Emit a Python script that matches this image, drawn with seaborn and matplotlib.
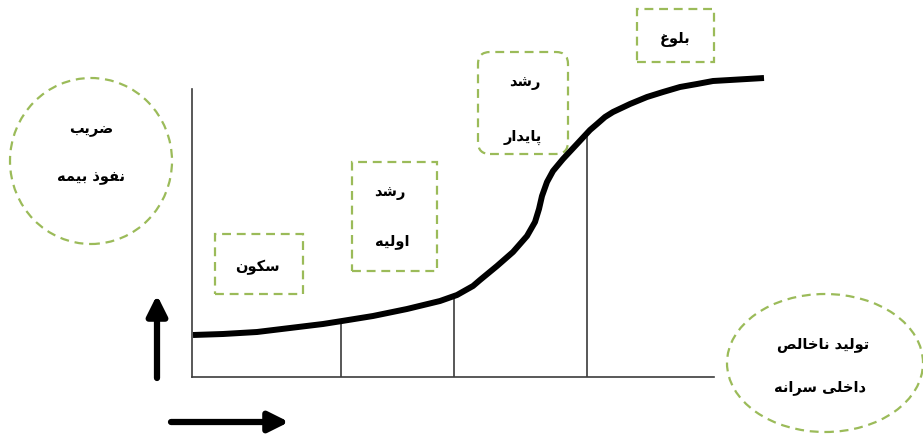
import matplotlib
matplotlib.use("Agg")
import matplotlib.pyplot as plt
import numpy as np
import pandas as pd
import seaborn as sns
from matplotlib.patches import Ellipse, FancyBboxPatch, Rectangle

# S-curve (x: time from the y-axis, y: height above the x-axis, in px)
curve_x = [1, 31, 65, 98, 131, 150, 181, 215, 248, 265, 281, 288, 305, 321, 335, 343, 347,
           350, 355, 361, 371, 385, 398, 405, 413, 421, 438, 455, 471, 488, 505, 521, 538, 555, 572]
curve_y = [42, 43, 45, 49, 53, 56, 61, 68, 76, 82, 91, 97, 111, 125, 141, 155, 168,
           181, 195, 206, 218, 233, 247, 253, 260, 265, 273, 280, 285, 290, 293, 296, 297, 298, 299]
stage_bounds = [149, 262, 395]
axis_x_end = 522
axis_y_end = 288

y_label = ["ضریب", "نفوذ بیمه"]
x_label = ["تولید ناخالص", "داخلی سرانه"]
stage_labels = [["سکون"], ["رشد", "اولیه"], ["رشد", "پایدار"], ["بلوغ"]]

GREEN = "#9bbb59"
DASH = (0, (4, 2.6))

# minimal Persian shaping: matplotlib draws glyphs one by one, left to right
FORMS = {
    "ا": ("\uFE8D", "\uFE8E"),
    "ب": ("\uFE8F", "\uFE90", "\uFE91", "\uFE92"),
    "پ": ("\uFB56", "\uFB57", "\uFB58", "\uFB59"),
    "ت": ("\uFE95", "\uFE96", "\uFE97", "\uFE98"),
    "خ": ("\uFEA5", "\uFEA6", "\uFEA7", "\uFEA8"),
    "د": ("\uFEA9", "\uFEAA"),
    "ذ": ("\uFEAB", "\uFEAC"),
    "ر": ("\uFEAD", "\uFEAE"),
    "س": ("\uFEB1", "\uFEB2", "\uFEB3", "\uFEB4"),
    "ش": ("\uFEB5", "\uFEB6", "\uFEB7", "\uFEB8"),
    "ص": ("\uFEB9", "\uFEBA", "\uFEBB", "\uFEBC"),
    "ض": ("\uFEBD", "\uFEBE", "\uFEBF", "\uFEC0"),
    "غ": ("\uFECD", "\uFECE", "\uFECF", "\uFED0"),
    "ف": ("\uFED1", "\uFED2", "\uFED3", "\uFED4"),
    "ک": ("\uFB8E", "\uFB8F", "\uFB90", "\uFB91"),
    "ل": ("\uFEDD", "\uFEDE", "\uFEDF", "\uFEE0"),
    "م": ("\uFEE1", "\uFEE2", "\uFEE3", "\uFEE4"),
    "ن": ("\uFEE5", "\uFEE6", "\uFEE7", "\uFEE8"),
    "ه": ("\uFEE9", "\uFEEA", "\uFEEB", "\uFEEC"),
    "و": ("\uFEED", "\uFEEE"),
    "ی": ("\uFBFC", "\uFBFD", "\uFBFE", "\uFBFF"),
}


def shape(text):
    out = []
    for i, ch in enumerate(text):
        f = FORMS.get(ch)
        if f is None:
            out.append(ch)
            continue
        prev = text[i - 1] if i > 0 else ""
        nxt = text[i + 1] if i + 1 < len(text) else ""
        join_prev = prev in FORMS and len(FORMS[prev]) == 4
        join_next = len(f) == 4 and nxt in FORMS
        if join_prev and join_next:
            out.append(f[3])
        elif join_prev:
            out.append(f[1])
        elif join_next:
            out.append(f[2])
        else:
            out.append(f[0])
    return "".join(reversed(out))


sns.set_style("white")
plt.rcParams["font.family"] = ["DejaVu Sans"]

W, H = 923, 435
fig = plt.figure(figsize=(W / 100, H / 100), dpi=100)
x_end = curve_x[-1]
y_end = curve_y[-1]
ax = fig.add_axes([192 / W, 57 / H, x_end / W, y_end / H])

df = pd.DataFrame({"x": curve_x, "y": curve_y})
sns.lineplot(data=df, x="x", y="y", ax=ax, color="black", lw=4.3,
             sort=False, solid_capstyle="butt", solid_joinstyle="round", clip_on=False)

ax.set_xlim(0, x_end)
ax.set_ylim(0, y_end)
ax.set_xticks([])
ax.set_yticks([])
ax.set_xlabel("")
ax.set_ylabel("")
for side in ["top", "right"]:
    ax.spines[side].set_visible(False)
for side in ["left", "bottom"]:
    ax.spines[side].set_color("#3c3c3c")
    ax.spines[side].set_linewidth(1.2)
ax.spines["bottom"].set_bounds(0, axis_x_end)
ax.spines["left"].set_bounds(0, axis_y_end)

# stage dividers up to the curve
for b in stage_bounds:
    top = np.interp(b, curve_x, curve_y)
    ax.plot([b, b], [0, top], color="#2a2a2a", lw=1.1, zorder=1)

# stage boxes
boxes = [(23, 83, 88, 60), (160, 106, 85, 109), (445, 315, 77, 53)]
for x0, y0, w, h in boxes:
    ax.add_patch(Rectangle((x0, y0), w, h, fill=False, ec=GREEN, lw=1.6,
                           ls=DASH, clip_on=False))
ax.add_patch(FancyBboxPatch((298, 235), 66, 78, boxstyle="round,pad=12",
                            fill=False, ec=GREEN, lw=1.6, ls=DASH, clip_on=False))

# axis-name circles
ax.add_patch(Ellipse((-101, 216), 162, 166, fill=False, ec=GREEN, lw=1.6,
                     ls=DASH, clip_on=False))
ax.add_patch(Ellipse((633, 14), 196, 138, fill=False, ec=GREEN, lw=1.6,
                     ls=DASH, clip_on=False))

txt = dict(ha="center", va="center", fontsize=10.5, fontweight="bold",
           color="black", clip_on=False)
for label, y in zip(y_label, [248, 200]):
    ax.text(-101, y, shape(label), **txt)
for label, (x, y) in zip(x_label, [(631, 33), (628, -10)]):
    ax.text(x, y, shape(label), **txt)

stage_pos = [[(65, 111)], [(198, 185), (200, 136)], [(333, 295), (331, 241)], [(483, 338)]]
for lines, pos in zip(stage_labels, stage_pos):
    for label, (x, y) in zip(lines, pos):
        ax.text(x, y, shape(label), **txt)

# direction arrows
arrow = dict(arrowstyle="-|>,head_length=1.2,head_width=0.6",
             color="black", lw=4.5, shrinkA=0, shrinkB=0)
ax.annotate("", xy=(-35, 82), xytext=(-35, -1), arrowprops=arrow,
            annotation_clip=False)
ax.annotate("", xy=(97, -45), xytext=(-21, -45), arrowprops=arrow,
            annotation_clip=False)

fig.savefig("out.png", dpi=100, facecolor="white")
